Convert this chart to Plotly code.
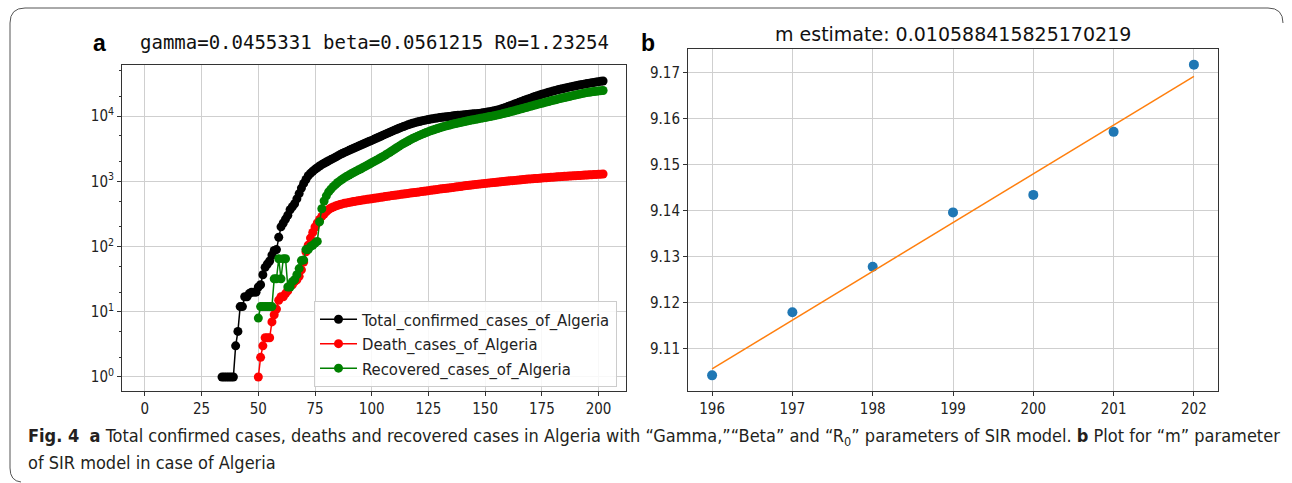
import plotly.graph_objects as go
import numpy as np

W, H = 1292, 483

# ---------------- Panel a data (daily cumulative counts, log axis) ----------------
confirmed_start = 34
confirmed = [
    1, 1, 1, 1, 1, 1,
    3, 5, 12, 12, 17, 17, 19, 20, 20, 20,
    24, 26, 37, 48, 54, 60, 74, 87, 90, 139,
    201, 230, 264, 302, 367, 409, 454, 540, 650, 790,
    930, 1070, 1220, 1330, 1430, 1530, 1620, 1720, 1810, 1900,
    1980, 2070, 2160, 2250, 2350, 2460, 2570, 2680, 2780, 2880,
    2990, 3100, 3210, 3330, 3450, 3580, 3710, 3840, 3980, 4120,
    4250, 4410, 4580, 4750, 4930, 5110, 5300, 5490, 5690, 5890,
    6100, 6310, 6520, 6730, 6940, 7150, 7360, 7560, 7760, 7950,
    8130, 8300, 8460, 8610, 8760, 8900, 9030, 9160, 9280, 9400,
    9510, 9620, 9720, 9820, 9920, 10020, 10110, 10200, 10290, 10380,
    10460, 10540, 10620, 10700, 10780, 10860, 10940, 11030, 11130, 11260,
    11400, 11550, 11720, 11900, 12100, 12330, 12600, 12900, 13250, 13630,
    14030, 14450, 14890, 15350, 15830, 16320, 16820, 17330, 17850, 18380,
    18920, 19460, 20000, 20540, 21080, 21620, 22160, 22700, 23240, 23770,
    24300, 24820, 25340, 25850, 26360, 26860, 27360, 27850, 28340, 28820,
    29300, 29770, 30240, 30700, 31160, 31610, 32060, 32500, 32940, 33380,
    33810, 34240, 34670,
]

deaths_start = 50
deaths = [
    1, 2, 3, 4, 4, 4, 7, 9, 11, 15,
    17, 17, 19, 21, 25, 26, 29, 31, 35, 44,
    58, 83, 105, 135, 165, 200, 230, 260, 290, 315,
    345, 370, 390, 405, 418, 430, 441, 451, 460, 468,
    476, 483, 490, 497, 504, 511, 518, 524, 530, 536,
    542, 549, 556, 563, 570, 577, 584, 591, 598, 605,
    612, 619, 626, 633, 640, 647, 654, 661, 668, 675,
    682, 689, 697, 705, 713, 721, 729, 737, 745, 753,
    761, 769, 777, 785, 793, 801, 809, 818, 827, 836,
    845, 854, 863, 872, 881, 890, 899, 907, 915, 923,
    931, 939, 947, 955, 963, 971, 979, 987, 995, 1003,
    1011, 1019, 1027, 1035, 1043, 1051, 1059, 1067, 1075, 1083,
    1090, 1097, 1104, 1111, 1118, 1125, 1132, 1139, 1146, 1153,
    1160, 1167, 1174, 1181, 1188, 1194, 1200, 1206, 1212, 1218,
    1224, 1230, 1236, 1242, 1248, 1254, 1260, 1266, 1272, 1278,
    1284, 1290, 1296,
]

recovered_start = 50
recovered = [
    8, 12, 12, 12, 12, 12, 12, 32, 32, 65,
    32, 65, 65, 24, 24, 29, 31, 37, 46, 61,
    62, 90, 90, 100, 105, 113, 120, 240, 380, 500,
    600, 690, 760, 830, 890, 960, 1020, 1080, 1140, 1200,
    1250, 1310, 1370, 1430, 1490, 1550, 1620, 1690, 1770, 1850,
    1930, 2020, 2110, 2200, 2300, 2410, 2530, 2660, 2800, 2950,
    3110, 3280, 3450, 3630, 3810, 3990, 4170, 4350, 4530, 4710,
    4890, 5070, 5250, 5430, 5610, 5790, 5970, 6140, 6310, 6480,
    6640, 6800, 6960, 7110, 7260, 7410, 7560, 7710, 7860, 8010,
    8150, 8290, 8430, 8570, 8710, 8850, 8990, 9130, 9270, 9410,
    9550, 9700, 9850, 10010, 10180, 10360, 10550, 10750, 10960, 11180,
    11410, 11650, 11900, 12160, 12430, 12710, 13000, 13290, 13590, 13890,
    14200, 14510, 14830, 15150, 15480, 15810, 16140, 16480, 16820, 17170,
    17520, 17870, 18230, 18590, 18950, 19320, 19690, 20060, 20440, 20820,
    21200, 21580, 21970, 22350, 22740, 23130, 23300, 23600, 23900, 24150,
    24400, 24600, 24800,
]

series_names = ["Total_confirmed_cases_of_Algeria",
                "Death_cases_of_Algeria",
                "Recovered_cases_of_Algeria"]
series_colors = ["black", "red", "green"]

a_xticks = [0, 25, 50, 75, 100, 125, 150, 175, 200]
a_ytick_vals = [1, 10, 100, 1000, 10000]
a_ytick_text = ["10<sup>0</sup>", "10<sup>1</sup>", "10<sup>2</sup>",
                "10<sup>3</sup>", "10<sup>4</sup>"]

# ---------------- Panel b data ----------------
b_days = [196, 197, 198, 199, 200, 201, 202]
b_values = [9.1042, 9.1179, 9.1278, 9.1396, 9.1434, 9.1571, 9.1717]
b_yticks = [9.11, 9.12, 9.13, 9.14, 9.15, 9.16, 9.17]

title_a = "gamma=0.0455331 beta=0.0561215 R0=1.23254"
title_b = "m estimate: 0.010588415825170219"

caption_line1 = ("<b>Fig. 4</b>  <b>a</b> Total confirmed cases, deaths and recovered cases in Algeria "
                 "with \u201cGamma,\u201d\u201cBeta\u201d and \u201cR<sub>0</sub>\u201d parameters of SIR model. "
                 "<b>b</b> Plot for \u201cm\u201d parameter")
caption_line2 = "of SIR model in case of Algeria"

# ---------------- helpers ----------------
def fx(p):
    return p / W

def fy(p):
    return 1 - p / H

NARROW = "Liberation Sans Narrow, DejaVu Sans Condensed, Arial Narrow, sans-serif"
TICKFONT = dict(family=NARROW, size=15, color="#222")

fig = go.Figure()

for vals, start, name, col in zip([confirmed, deaths, recovered],
                                  [confirmed_start, deaths_start, recovered_start],
                                  series_names, series_colors):
    fig.add_trace(go.Scatter(
        x=list(range(start, start + len(vals))), y=vals,
        mode="lines+markers", name=name, legendgroup=name,
        line=dict(color=col, width=1.5),
        marker=dict(color=col, size=9),
        xaxis="x", yaxis="y",
    ))

slope, intercept = np.polyfit(b_days, b_values, 1)
fit_vals = [slope * d + intercept for d in b_days]

fig.add_trace(go.Scatter(x=b_days, y=b_values, mode="markers",
                         marker=dict(color="#1f77b4", size=10),
                         showlegend=False, xaxis="x2", yaxis="y2"))
fig.add_trace(go.Scatter(x=b_days, y=fit_vals, mode="lines",
                         line=dict(color="#ff7f0e", width=1.5),
                         showlegend=False, xaxis="x2", yaxis="y2"))

axis_common = dict(showline=True, linecolor="#333", linewidth=1, mirror=True,
                   ticks="outside", ticklen=4, tickcolor="#333",
                   showgrid=True, gridcolor="#cfcfcf", gridwidth=1,
                   zeroline=False, tickfont=TICKFONT)

fig.update_layout(
    width=W, height=H,
    margin=dict(l=0, r=0, t=0, b=0),
    paper_bgcolor="white", plot_bgcolor="white",
    xaxis=dict(domain=[fx(122), fx(626)], range=[-10.1, 212.1],
               tickvals=a_xticks, anchor="y", **axis_common),
    yaxis=dict(domain=[fy(391), fy(65)], type="log", range=[-0.215, 4.785],
               tickvals=a_ytick_vals, ticktext=a_ytick_text, anchor="x",
               minor=dict(ticks="outside", ticklen=2, tickcolor="#333", showgrid=False),
               **axis_common),
    xaxis2=dict(domain=[fx(688), fx(1218)], range=[195.7, 202.3],
                tickvals=b_days, anchor="y2", **axis_common),
    yaxis2=dict(domain=[fy(391), fy(49)], range=[9.1008, 9.1751],
                tickvals=b_yticks, tickformat=".2f", anchor="x2", **axis_common),
    legend=dict(x=fx(617), y=fy(387), xanchor="right", yanchor="bottom",
                bgcolor="rgba(255,255,255,0.85)", bordercolor="#cccccc", borderwidth=1,
                tracegroupgap=0, itemwidth=37,
                font=dict(family=NARROW, size=16.5, color="#222")),
    showlegend=True,
)

ann = []
def add_text(x, y, text, font, xanchor="center"):
    ann.append(dict(x=fx(x), y=fy(y), xref="paper", yref="paper", text=text,
                    xanchor=xanchor, yanchor="middle", showarrow=False, font=font))

add_text(99, 43, "<b>a</b>", dict(family="Liberation Sans, Arial", size=23, color="black"))
add_text(374, 42, title_a, dict(family="DejaVu Sans Mono", size=19, color="#111"))
add_text(648, 43, "<b>b</b>", dict(family="Liberation Sans, Arial", size=23, color="black"))
add_text(953, 34, title_b, dict(family="DejaVu Sans", size=19, color="#111"))
add_text(26, 437, caption_line1, dict(family=NARROW, size=18, color="#231f20"), xanchor="left")
add_text(26, 462, caption_line2, dict(family=NARROW, size=18, color="#231f20"), xanchor="left")
fig.update_layout(annotations=ann)

frame_path = (f"M {fx(21)},{fy(482)} Q {fx(10)},{fy(481)} {fx(10)},{fy(468)} "
              f"L {fx(10)},{fy(23)} Q {fx(10)},{fy(8)} {fx(25)},{fy(8)} "
              f"L {fx(1268)},{fy(8)} Q {fx(1283)},{fy(8)} {fx(1283)},{fy(23)}")
fig.add_shape(type="path", path=frame_path, xref="paper", yref="paper",
              line=dict(color="#555", width=1))

fig.write_html("out.html")
